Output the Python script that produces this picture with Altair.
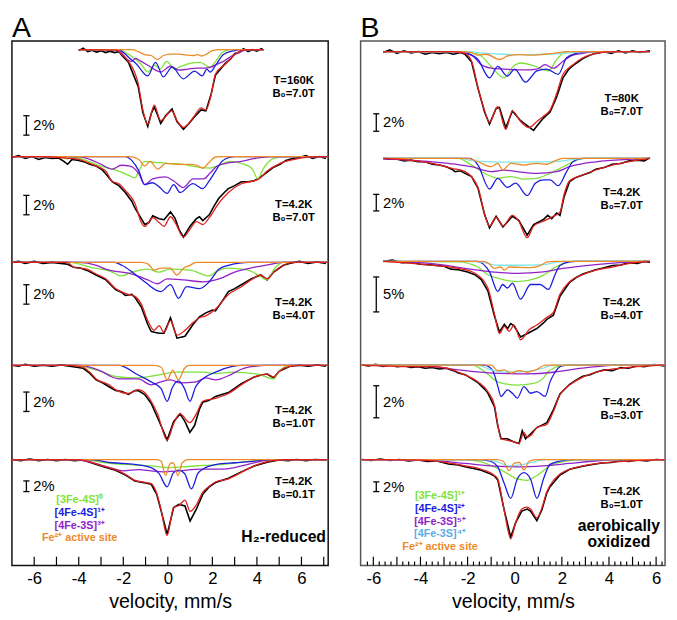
import altair as alt
import pandas as pd

FONT = "Liberation Sans"
FRAME_TOP = 29          # page y of the reference frame top (layout)
PLOT_H_UNITS = 540      # reference frame height (layout units)

COL = {"green": "#7ee23a", "blue": "#1c1ce0", "purple": "#9321c9",
       "orange": "#ee8a28", "cyan": "#7fe6ea", "fit": "#e0201c", "data": "#000000"}

# ======================= Panel A : H2-reduced =======================
# (velocity mm/s, absorption %)
A1_data = [(-4.0,0.1),(-3.8,-0.15),(-3.6,0.2),(-3.4,0.05),(-3.2,0.25),(-3.0,0.1),(-2.8,0.3),(-2.6,0.15),(-2.4,0.3),(-2.2,0.2),(-2.06,0.6),(-1.77,1.3),(-1.33,3.8),(-1.12,6.5),(-0.90,7.9),(-0.75,6.6),(-0.61,5.9),(-0.45,6.8),(-0.32,7.6),(-0.1,6.8),(0.19,6.1),(0.41,7.4),(0.70,8.2),(0.95,7.6),(1.20,6.9),(1.49,6.2),(1.71,6.3),(1.93,4.7),(2.14,2.6),(2.4,1.9),(2.58,1.4),(2.8,1.0),(3.01,0.4),(3.2,0.3),(3.4,-0.1),(3.6,0.2),(3.8,0.0),(4.0,0.15),(4.2,-0.1),(4.3,0.05)]
A1_fit = [(-4.0,0),(-2.3,0.05),(-2.06,0.5),(-1.77,1.2),(-1.33,3.5),(-1.12,6.2),(-0.90,7.7),(-0.61,5.7),(-0.32,7.3),(0.19,6.3),(0.41,7.3),(0.70,8.0),(1.20,6.8),(1.49,6.0),(1.71,6.2),(1.93,4.8),(2.14,2.5),(2.58,1.5),(3.01,0.5),(3.30,0.1),(3.6,0),(4.3,0)]
A1_green = [(-4.0,0),(-2.2,0),(-1.9,0.3),(-1.5,0.9),(-1.2,1.5),(-0.90,2.3),(-0.6,1.6),(-0.35,2.0),(-0.05,1.2),(0.3,2.0),(0.6,1.7),(1.0,1.4),(1.45,1.3),(1.9,1.8),(2.15,1.2),(2.45,0.3),(2.8,0),(4.3,0)]
A1_blue = [(-4.0,0),(-2.2,0),(-2.0,0.3),(-1.7,0.9),(-1.4,1.5),(-0.90,2.7),(-0.55,1.3),(-0.2,2.8),(0.19,1.8),(0.7,3.0),(1.2,2.2),(1.55,2.7),(1.75,2.0),(1.9,2.3),(2.15,1.6),(2.5,0.5),(3.0,0.1),(3.3,0),(4.3,0)]
A1_purple = [(-4.0,0),(-2.3,0),(-2.06,0.4),(-1.77,1.1),(-1.62,1.2),(-1.45,0.9),(-1.2,1.2),(-0.90,1.6),(-0.32,2.3),(0.12,1.7),(0.48,2.1),(0.9,2.0),(1.3,1.9),(1.6,1.9),(1.93,1.8),(2.2,1.5),(2.5,1.2),(2.9,0.6),(3.3,0.2),(3.6,0),(4.3,0)]
A1_orange = [(-4.0,0),(-1.6,0),(-1.33,0.2),(-1.04,0.5),(-0.75,0.6),(-0.46,1.0),(-0.2,0.6),(0.12,0.45),(0.5,0.45),(0.84,0.55),(1.13,0.6),(1.35,0.5),(1.5,0.65),(1.78,0.4),(2.0,0.1),(2.3,0),(4.3,0)]

A2_data = [(-7.0,0.1),(-6.7,-0.1),(-6.4,0.2),(-6.1,0.0),(-5.8,0.3),(-5.5,0.1),(-5.2,0.2),(-4.9,0.15),(-4.67,0.5),(-4.5,0.8),(-4.3,0.3),(-4.0,0.4),(-3.7,0.6),(-3.51,0.8),(-3.2,1.0),(-2.93,1.4),(-2.78,1.8),(-2.49,2.6),(-2.2,3.0),(-1.91,3.7),(-1.62,4.6),(-1.48,5.3),(-1.19,6.4),(-1.04,7.0),(-0.85,6.8),(-0.68,6.1),(-0.39,6.4),(-0.17,6.5),(0.12,5.7),(0.33,6.4),(0.5,7.5),(0.70,8.3),(0.99,7.2),(1.28,6.4),(1.42,6.2),(1.57,6.6),(1.86,6.0),(2.1,5.0),(2.29,4.3),(2.58,3.6),(2.72,3.3),(3.0,3.0),(3.30,2.6),(3.6,2.6),(3.88,2.5),(4.10,2.2),(4.3,1.9),(4.46,1.6),(4.75,1.1),(5.04,0.8),(5.3,0.4),(5.6,0.2),(5.91,0.1),(6.2,-0.1),(6.5,0.2),(6.8,0.0),(7.1,0.2)]
A2_fit = [(-7.0,0),(-5.5,0),(-4.67,0.15),(-4.38,0.2),(-4.0,0.3),(-3.51,0.7),(-3.0,1.2),(-2.78,1.5),(-2.49,2.6),(-2.2,2.8),(-1.91,3.5),(-1.48,4.8),(-1.19,6.8),(-1.04,7.2),(-0.68,6.3),(-0.39,6.8),(-0.17,7.2),(0.12,6.2),(0.33,6.8),(0.70,8.3),(0.99,7.5),(1.28,6.7),(1.57,7.0),(1.86,6.3),(2.29,4.8),(2.72,3.7),(3.30,2.8),(3.88,2.5),(4.10,2.3),(4.46,1.5),(5.04,0.7),(5.91,0.2),(6.5,0),(7.2,0)]
A2_green = [(-7.0,0),(-4.9,0),(-4.5,0.25),(-4.2,0.1),(-3.8,0.3),(-3.0,1.0),(-2.2,1.5),(-1.7,2.0),(-1.48,2.2),(-1.3,1.5),(-1.04,0.5),(-0.6,0.6),(0.0,0.7),(0.7,0.8),(1.1,1.0),(1.86,1.2),(2.3,0.9),(2.8,0.5),(3.3,0.7),(3.8,1.3),(4.03,2.3),(4.3,1.2),(4.75,0.2),(5.2,0),(7.2,0)]
A2_blue = [(-7.0,0),(-1.9,0),(-1.62,0.4),(-1.3,1.5),(-1.04,2.9),(-0.68,2.7),(-0.4,3.1),(-0.03,3.8),(0.26,2.9),(0.55,3.7),(1.13,2.8),(1.57,3.3),(1.86,2.5),(2.14,1.5),(2.43,0.5),(2.8,0.05),(3.0,0),(7.2,0)]
A2_purple = [(-7.0,0),(-4.0,0),(-3.5,0.3),(-3.0,0.8),(-2.49,1.3),(-2.1,0.9),(-1.7,1.0),(-1.3,1.8),(-1.04,2.9),(-0.68,2.3),(-0.1,2.1),(0.25,2.5),(0.7,3.2),(1.13,2.3),(1.6,2.3),(1.9,1.7),(2.2,1.0),(2.6,0.7),(3.3,0.5),(3.9,0.2),(4.6,0),(7.2,0)]
A2_orange = [(-7.0,0),(-1.7,0),(-1.3,0.3),(-1.04,1.0),(-0.8,0.5),(-0.45,1.3),(-0.1,0.7),(0.4,0.8),(1.0,0.8),(1.3,0.9),(1.57,1.2),(1.85,0.6),(2.14,0.05),(2.4,0),(7.2,0)]

A3_data = [(-7.0,0.0),(-6.7,-0.1),(-6.4,0.1),(-6.0,-0.1),(-5.6,0.1),(-5.2,0.0),(-4.8,0.1),(-4.5,0.2),(-4.23,0.5),(-3.9,0.6),(-3.65,0.8),(-3.22,1.3),(-2.78,1.8),(-2.35,2.8),(-2.06,3.1),(-1.91,3.4),(-1.62,3.3),(-1.48,3.6),(-1.19,4.6),(-0.90,6.4),(-0.75,7.1),(-0.61,7.2),(-0.39,7.3),(-0.17,7.3),(0.12,5.7),(0.41,7.8),(0.77,7.6),(1.13,6.4),(1.42,5.6),(1.71,5.2),(2.0,4.9),(2.14,5.0),(2.5,3.8),(2.72,3.0),(3.0,2.7),(3.30,2.3),(3.74,1.7),(4.17,1.3),(4.46,1.8),(4.75,1.0),(5.19,0.3),(5.5,0.1),(5.9,-0.1),(6.3,0.1),(6.7,-0.05),(7.1,0.1)]
A3_fit = [(-7.0,0),(-4.5,0),(-4.23,0.5),(-3.65,0.7),(-3.22,1.2),(-2.78,1.7),(-2.35,2.7),(-1.91,3.2),(-1.48,3.5),(-1.19,4.3),(-0.90,6.0),(-0.61,7.0),(-0.39,6.5),(-0.17,7.2),(0.12,6.0),(0.41,7.5),(0.77,7.0),(1.13,6.2),(1.42,5.7),(1.71,5.5),(2.14,4.8),(2.72,3.3),(3.30,2.5),(3.74,1.8),(4.17,1.3),(4.46,1.7),(4.75,1.0),(5.19,0.3),(5.62,0),(7.2,0)]
A3_green = [(-7.0,0),(-4.4,0),(-3.5,0.5),(-2.5,1.0),(-2.1,1.4),(-1.6,1.0),(-0.9,0.7),(-0.4,1.0),(0.1,0.7),(1.0,0.8),(1.86,1.4),(2.2,0.9),(2.7,0.6),(3.6,0.8),(4.2,1.5),(4.46,1.8),(4.8,0.6),(5.2,0),(7.2,0)]
A3_blue = [(-7.0,0),(-2.4,0),(-2.06,0.3),(-1.6,1.0),(-1.04,2.0),(-0.32,3.0),(0.12,2.3),(0.48,3.7),(0.84,2.5),(1.42,2.7),(1.86,2.0),(2.29,0.7),(2.72,0.3),(3.3,0.05),(3.6,0),(7.2,0)]
A3_purple = [(-7.0,0),(-4.0,0),(-3.2,0.3),(-2.8,0.7),(-1.6,1.2),(-0.90,1.8),(-0.46,2.2),(-0.03,1.7),(0.7,1.8),(1.57,2.0),(2.3,1.7),(3.0,1.0),(3.9,0.5),(4.6,0.2),(5.2,0),(7.2,0)]
A3_orange = [(-7.0,0),(-1.2,0),(-0.9,0.15),(-0.61,0.8),(-0.3,0.6),(0.1,0.6),(0.41,1.3),(0.7,0.6),(0.99,0.3),(1.28,0),(7.2,0)]

A4_data = [(-7.0,0.0),(-6.7,0.1),(-6.4,-0.1),(-6.0,0.1),(-5.6,0.0),(-5.2,0.1),(-4.8,-0.05),(-4.4,0.1),(-3.8,0.3),(-3.51,0.8),(-3.22,1.5),(-2.93,1.8),(-2.64,2.2),(-2.35,2.6),(-2.06,2.7),(-1.77,3.0),(-1.48,2.6),(-1.33,2.6),(-1.04,3.0),(-0.75,3.9),(-0.46,5.4),(-0.25,6.5),(-0.03,7.7),(0.26,5.8),(0.55,5.0),(0.77,5.8),(0.99,6.9),(1.2,6.2),(1.42,4.5),(1.57,3.8),(1.86,3.6),(2.14,3.2),(2.43,3.0),(2.72,2.8),(3.30,1.9),(3.88,1.2),(4.2,1.0),(4.46,0.9),(4.75,1.3),(5.0,0.6),(5.48,0.1),(5.9,0.0),(6.3,0.1),(6.7,-0.05),(7.1,0.1)]
A4_fit = [(-7.0,0),(-4.4,0),(-3.8,0.2),(-3.51,0.7),(-3.22,1.4),(-2.64,2.0),(-2.35,2.5),(-1.77,2.9),(-1.33,2.5),(-1.04,2.8),(-0.75,3.7),(-0.46,5.0),(-0.03,7.7),(0.26,6.0),(0.55,5.0),(0.99,5.9),(1.28,5.0),(1.57,3.7),(2.14,3.4),(2.72,2.9),(3.30,2.0),(3.88,1.2),(4.46,0.9),(4.75,1.2),(5.0,0.6),(5.48,0.1),(6.0,0),(7.2,0)]
A4_green = [(-7.0,0),(-4.2,0),(-3.2,0.5),(-2.2,1.2),(-1.33,1.3),(-0.46,1.0),(0.4,0.7),(1.57,0.7),(2.14,0.85),(2.9,0.7),(4.03,0.9),(4.75,1.4),(5.0,0.6),(5.5,0),(7.2,0)]
A4_blue = [(-7.0,0),(-2.2,0),(-1.33,1.0),(-0.75,1.7),(-0.3,2.4),(-0.03,3.7),(0.2,2.3),(0.48,1.6),(0.75,2.4),(0.99,3.7),(1.25,2.2),(1.42,1.7),(2.14,0.7),(2.9,0.1),(3.3,0),(7.2,0)]
A4_purple = [(-7.0,0),(-4.0,0),(-3.0,0.6),(-2.5,1.2),(-2.2,1.4),(-1.33,1.4),(-0.75,2.0),(-0.32,1.7),(0.12,1.5),(0.55,1.8),(1.28,1.7),(1.71,1.3),(2.14,1.5),(2.87,0.9),(3.3,0.4),(3.9,0.1),(4.4,0),(7.2,0)]
A4_orange = [(-7.0,0),(-0.6,0),(-0.3,0.2),(-0.03,1.5),(0.22,0.5),(0.48,1.5),(0.75,0.3),(0.95,0),(7.2,0)]

A5_data = [(-7.0,0.0),(-6.6,0.2),(-6.2,-0.1),(-5.8,0.2),(-5.4,0.0),(-5.0,0.2),(-4.6,0.0),(-4.2,0.2),(-3.8,0.1),(-3.51,0.5),(-2.93,1.3),(-2.35,2.0),(-1.9,2.9),(-1.48,4.0),(-1.0,4.4),(-0.75,4.6),(-0.5,6.5),(-0.32,9.3),(-0.03,14.0),(0.26,9.0),(0.5,8.4),(0.77,8.7),(1.0,11.5),(1.28,9.3),(1.57,6.5),(1.86,5.1),(2.14,4.3),(2.72,3.5),(3.30,2.3),(3.88,1.2),(4.46,0.5),(5.0,0.1),(5.4,0.2),(5.8,0.0),(6.2,0.2),(6.6,0.0),(7.1,0.1)]
A5_fit = [(-7.0,0),(-4.0,0),(-3.51,0.4),(-2.93,1.2),(-2.35,1.9),(-1.9,2.8),(-1.48,3.9),(-1.0,4.3),(-0.75,4.5),(-0.5,6.3),(-0.32,9.1),(-0.03,14.2),(0.26,9.0),(0.5,8.6),(0.77,7.6),(1.0,9.7),(1.28,8.5),(1.57,6.1),(1.86,5.0),(2.14,4.2),(2.72,3.6),(3.30,2.4),(3.88,1.2),(4.46,0.4),(5.2,0),(7.2,0)]
A5_green = [(-7.0,0),(-3.8,0),(-2.8,0.6),(-1.6,1.0),(-0.75,1.2),(0.1,1.5),(0.9,1.3),(1.6,1.1),(2.5,0.9),(3.3,0.5),(4.2,0.1),(4.6,0),(7.2,0)]
A5_blue = [(-7.0,0),(-3.5,0),(-2.5,0.6),(-1.5,0.9),(-0.75,1.5),(-0.4,2.6),(-0.03,5.1),(0.25,2.5),(0.48,2.0),(0.75,2.6),(1.06,5.5),(1.35,2.6),(1.57,1.8),(2.2,0.9),(3.0,0.6),(3.9,0.3),(4.6,0),(7.2,0)]
A5_purple = [(-7.0,0),(-4.2,0),(-3.5,0.5),(-2.6,1.5),(-2.0,2.1),(-1.3,1.9),(-0.75,2.1),(-0.2,2.3),(0.5,2.1),(1.5,1.8),(2.5,1.8),(3.0,1.5),(3.6,0.9),(4.2,0.3),(4.8,0),(7.2,0)]
A5_orange = [(-7.0,0),(-0.5,0),(-0.3,0.3),(-0.1,3.0),(0.1,0.8),(0.24,0.6),(0.45,3.0),(0.65,0.6),(0.9,0),(7.2,0)]

# ======================= Panel B : aerobically oxidized =======================
B1_data = [(-5.58,0.1),(-5.3,-0.2),(-5.0,0.2),(-4.7,-0.1),(-4.4,0.15),(-4.1,0.0),(-3.8,0.3),(-3.5,0.1),(-3.2,0.25),(-2.9,0.1),(-2.6,0.3),(-2.3,0.1),(-2.11,0.3),(-1.83,1.2),(-1.56,4.2),(-1.28,6.9),(-1.07,8.3),(-0.79,6.5),(-0.65,6.4),(-0.38,8.7),(-0.1,6.8),(0.25,7.9),(0.6,8.6),(0.8,9.0),(0.94,8.5),(1.22,7.6),(1.5,6.9),(1.78,5.2),(2.05,3.0),(2.3,2.0),(2.47,1.6),(2.89,0.8),(3.2,0.4),(3.44,0.2),(3.8,0.0),(4.1,0.2),(4.4,-0.1),(4.7,0.15),(5.0,-0.1),(5.3,0.1),(5.74,-0.1)]
B1_fit = [(-5.58,0),(-2.53,0),(-2.11,0.2),(-1.83,1.1),(-1.56,4.1),(-1.28,6.7),(-1.07,8.1),(-0.72,6.3),(-0.38,8.9),(-0.1,6.8),(0.25,8.0),(0.6,8.7),(0.94,8.0),(1.22,7.4),(1.5,6.7),(1.78,4.8),(2.05,2.6),(2.47,1.5),(2.89,0.7),(3.44,0.2),(4.14,0),(5.74,0)]
B1_green = [(-5.58,0),(-2.0,0),(-1.42,0.5),(-1.0,1.7),(-0.44,3.0),(-0.1,1.8),(0.25,1.3),(0.8,1.6),(1.43,2.2),(1.78,0.9),(2.05,0.2),(2.3,0),(5.74,0)]
B1_blue = [(-5.58,0),(-2.4,0),(-2.0,0.2),(-1.56,0.9),(-1.07,3.0),(-0.72,1.7),(-0.31,2.8),(0.0,2.0),(0.46,3.5),(0.94,2.2),(1.36,2.0),(1.85,2.6),(2.2,0.7),(2.61,0.2),(2.89,0.05),(3.1,0),(5.74,0)]
B1_purple = [(-5.58,0),(-2.8,0),(-2.3,0.1),(-1.83,0.4),(-1.42,1.5),(-1.0,1.9),(-0.44,2.0),(0.39,2.1),(0.94,2.0),(1.29,1.5),(1.64,1.9),(2.05,1.1),(2.47,0.4),(2.89,0.2),(3.4,0),(5.74,0)]
B1_cyan = [(-5.58,0),(-2.0,0),(-1.5,0.15),(-0.5,0.3),(0.5,0.35),(1.5,0.3),(2.3,0.15),(3.0,0),(5.74,0)]
B1_orange = [(-5.58,0),(-2.3,0),(-1.83,0.15),(-1.56,0.4),(-1.2,0.3),(-0.65,0.9),(-0.3,0.5),(0.2,0.35),(0.7,0.4),(1.22,0.3),(1.78,0.15),(2.2,0),(5.74,0)]

B2_data = [(-5.58,0.0),(-5.3,0.1),(-5.0,0.05),(-4.7,0.3),(-4.4,0.2),(-4.1,0.4),(-3.8,0.4),(-3.5,0.7),(-3.2,0.8),(-2.9,1.0),(-2.67,1.3),(-2.53,1.6),(-2.3,1.5),(-2.11,1.8),(-1.83,2.2),(-1.56,3.6),(-1.28,6.8),(-1.07,8.4),(-0.79,7.0),(-0.5,8.3),(-0.1,7.0),(0.17,7.5),(0.53,9.3),(0.8,8.0),(1.22,7.4),(1.4,6.9),(1.57,7.3),(1.78,6.6),(1.92,6.9),(2.1,4.6),(2.33,2.8),(2.6,2.3),(2.89,2.0),(3.2,1.7),(3.44,1.3),(3.8,1.1),(4.14,0.7),(4.5,0.6),(4.83,0.3),(5.2,0.2),(5.5,0.3),(5.74,-0.1)]
B2_fit = [(-5.58,0),(-4.5,0.2),(-3.5,0.6),(-2.67,1.2),(-2.11,1.6),(-1.56,3.5),(-1.28,6.7),(-1.07,8.2),(-0.79,7.1),(-0.5,8.2),(-0.1,6.9),(0.17,7.6),(0.53,9.6),(0.8,8.2),(1.22,7.6),(1.57,7.1),(1.92,6.5),(2.1,4.3),(2.33,2.7),(2.89,2.0),(3.44,1.4),(4.14,0.8),(4.83,0.4),(5.74,0)]
B2_green = [(-5.58,0),(-2.4,0),(-1.83,0.8),(-1.14,2.0),(-0.72,2.4),(-0.17,2.2),(0.39,2.5),(0.94,2.4),(1.5,1.8),(1.92,1.2),(2.2,0.8),(2.61,0.2),(3.0,0),(5.74,0)]
B2_blue = [(-5.58,0),(-1.9,0),(-1.56,0.8),(-1.07,3.7),(-0.72,2.4),(-0.31,3.5),(0.04,3.0),(0.53,4.5),(0.875,3.0),(1.22,2.6),(1.5,2.6),(1.85,3.3),(2.2,1.6),(2.47,0.4),(2.89,0),(5.74,0)]
B2_purple = [(-5.58,0.05),(-3.5,0.4),(-2.5,0.7),(-1.83,1.0),(-1.0,1.6),(-0.44,1.4),(0.11,1.6),(0.94,1.8),(1.78,1.6),(2.33,1.0),(3.44,0.4),(4.83,0.1),(5.74,0)]
B2_cyan = [(-5.58,0),(-2.4,0),(-1.7,0.3),(-1.0,0.4),(0.5,0.45),(1.9,0.35),(2.5,0.1),(2.9,0),(5.74,0)]
B2_orange = [(-5.58,0),(-2.0,0),(-1.56,0.4),(-1.0,1.0),(-0.72,0.6),(-0.51,1.4),(-0.17,0.6),(0.39,0.8),(0.94,0.6),(1.36,0.7),(1.78,0.2),(2.05,0),(5.74,0)]

B3_data = [(-5.58,0.0),(-5.2,-0.2),(-4.8,0.2),(-4.4,0.1),(-4.0,0.4),(-3.5,0.5),(-3.0,0.7),(-2.7,1.1),(-2.39,1.2),(-2.0,1.5),(-1.69,1.9),(-1.42,2.6),(-1.14,4.2),(-0.86,7.8),(-0.65,10.1),(-0.44,9.0),(-0.3,9.6),(-0.17,8.9),(-0.03,9.2),(0.25,10.8),(0.6,10.2),(0.94,9.6),(1.22,8.8),(1.36,8.3),(1.64,7.7),(1.92,5.0),(2.33,3.0),(2.61,2.3),(2.89,1.8),(3.44,1.2),(3.8,0.9),(4.14,0.6),(4.5,0.5),(4.83,0.2),(5.2,0.3),(5.5,0.0),(5.74,0.1)]
B3_fit = [(-5.58,0),(-3.5,0.55),(-2.39,1.0),(-1.69,1.7),(-1.14,3.8),(-0.86,7.5),(-0.65,10.3),(-0.44,9.3),(-0.24,10.0),(-0.03,9.1),(0.25,11.2),(0.6,9.8),(0.94,9.1),(1.36,8.0),(1.64,7.3),(1.92,4.7),(2.33,2.9),(2.89,1.9),(3.44,1.25),(4.14,0.8),(4.83,0.3),(5.74,0)]
B3_green = [(-5.58,0),(-2.4,0.05),(-1.56,0.8),(-1.14,1.9),(-0.72,2.4),(0.11,2.9),(0.94,2.4),(1.36,1.7),(1.64,1.0),(2.05,0.3),(2.4,0),(5.74,0)]
B3_blue = [(-5.58,0),(-1.6,0),(-1.07,1.5),(-0.72,4.3),(-0.51,3.3),(-0.31,3.8),(-0.1,3.1),(0.25,5.4),(0.67,3.3),(1.08,3.3),(1.43,4.0),(1.71,1.9),(1.92,0.6),(2.33,0.05),(2.6,0),(5.74,0)]
B3_purple = [(-5.58,0),(-3.5,0.3),(-2.11,1.0),(-1.0,1.5),(0.11,1.7),(1.22,1.5),(2.05,1.0),(3.44,0.45),(4.83,0.1),(5.74,0)]
B3_cyan = [(-5.58,0),(-2.0,0),(-1.42,0.1),(-0.72,0.55),(0.11,0.55),(1.22,0.45),(1.78,0.1),(2.2,0),(5.74,0)]
B3_orange = [(-5.58,0),(-1.4,0),(-1.14,0.2),(-0.86,1.0),(-0.58,0.8),(-0.44,1.25),(-0.24,0.8),(0.67,0.9),(1.08,0.6),(1.36,0.1),(1.6,0),(5.74,0)]

B4_data = [(-6.49,0.0),(-6.2,0.05),(-5.9,-0.05),(-5.6,0.08),(-5.3,0.0),(-5.0,0.1),(-4.7,0.05),(-4.4,0.15),(-4.1,0.1),(-3.8,0.2),(-3.5,0.15),(-3.2,0.25),(-2.9,0.2),(-2.6,0.35),(-2.39,0.5),(-2.1,0.6),(-1.83,0.85),(-1.56,1.1),(-1.28,1.5),(-1.14,1.75),(-0.86,2.6),(-0.72,3.8),(-0.58,4.6),(-0.31,4.6),(-0.03,4.8),(0.18,4.9),(0.32,4.1),(0.46,4.6),(0.67,4.3),(0.94,3.9),(1.22,3.7),(1.36,3.6),(1.64,2.8),(1.92,1.8),(2.33,1.2),(2.6,0.95),(2.89,0.7),(3.2,0.6),(3.44,0.45),(3.8,0.3),(4.14,0.35),(4.5,0.15),(4.83,0.2),(5.2,0.05),(5.5,0.1),(5.9,-0.03),(6.36,0.05)]
B4_fit = [(-6.49,0),(-4.0,0.1),(-3.5,0.1),(-2.81,0.2),(-2.39,0.45),(-1.56,1.05),(-1.14,1.65),(-0.86,2.5),(-0.72,3.7),(-0.58,4.6),(-0.31,4.7),(-0.03,4.8),(0.18,4.9),(0.39,4.2),(0.53,4.5),(0.74,4.3),(0.94,3.9),(1.36,3.7),(1.64,2.9),(1.92,1.85),(2.33,1.25),(2.89,0.75),(3.44,0.45),(4.83,0.15),(5.74,0.05),(6.36,0)]
B4_green = [(-6.49,0),(-1.8,0),(-1.28,0.4),(-0.72,1.05),(0.11,1.25),(0.8,1.15),(1.22,0.8),(1.43,0.4),(1.8,0.1),(2.2,0),(6.36,0)]
B4_blue = [(-6.49,0),(-1.3,0),(-0.95,0.3),(-0.72,1.3),(-0.58,1.96),(-0.31,1.55),(-0.1,1.76),(0.11,2.06),(0.39,1.35),(0.67,1.76),(0.94,1.66),(1.29,1.96),(1.5,1.05),(1.71,0.45),(2.0,0.05),(2.3,0),(6.36,0)]
B4_purple = [(-6.49,0),(-3.5,0.1),(-2.39,0.3),(-1.0,0.5),(0.5,0.55),(1.64,0.45),(2.33,0.3),(3.44,0.1),(4.5,0),(6.36,0)]
B4_cyan = [(-6.49,0),(-1.6,0),(-1.0,0.3),(-0.3,0.45),(0.5,0.4),(1.2,0.2),(1.6,0),(6.36,0)]
B4_orange = [(-6.49,0),(-1.0,0),(-0.72,0.35),(-0.44,0.3),(-0.17,0.5),(0.18,0.35),(0.53,0.45),(0.9,0.3),(1.3,0),(6.36,0)]

B5_data = [(-6.49,0.0),(-6.1,0.2),(-5.7,-0.1),(-5.3,0.2),(-4.9,0.0),(-4.5,0.3),(-4.1,0.1),(-3.7,0.4),(-3.3,0.3),(-2.81,0.9),(-2.4,1.1),(-2.11,1.5),(-1.7,1.9),(-1.42,2.2),(-1.1,2.8),(-0.86,3.4),(-0.72,4.2),(-0.44,10.5),(-0.17,16.0),(0.04,13.0),(0.3,10.6),(0.53,10.2),(0.67,10.6),(0.94,12.6),(1.15,10.4),(1.36,6.9),(1.5,5.6),(1.92,3.2),(2.33,2.0),(2.89,1.4),(3.3,1.0),(3.7,0.7),(4.1,0.6),(4.5,0.2),(4.83,0.4),(5.2,0.1),(5.6,0.3),(6.0,0.0),(6.36,0.1)]
B5_fit = [(-6.49,0),(-4.0,0.1),(-2.81,0.67),(-2.11,1.3),(-1.42,2.0),(-0.86,3.3),(-0.72,4.0),(-0.44,10.7),(-0.17,16.3),(0.04,13.0),(0.3,10.2),(0.53,9.8),(0.67,10.2),(0.94,12.0),(1.15,10.0),(1.36,6.7),(1.5,5.3),(1.92,3.0),(2.33,2.0),(2.89,1.3),(3.7,0.7),(4.83,0.3),(6.36,0)]
B5_green = [(-6.49,0),(-2.2,0),(-1.56,0.3),(-0.86,1.5),(-0.44,2.5),(-0.17,3.3),(0.11,4.0),(0.53,4.3),(0.8,3.7),(1.22,2.3),(1.5,1.2),(2.33,0.2),(2.8,0),(6.36,0)]
B5_blue = [(-6.49,0),(-1.5,0),(-1.0,0.4),(-0.72,1.5),(-0.44,5.0),(-0.17,8.0),(0.11,4.0),(0.39,2.7),(0.67,4.0),(0.94,8.0),(1.22,4.0),(1.5,1.0),(2.05,0.2),(2.5,0),(6.36,0)]
B5_purple = [(-6.49,0),(-3.5,0.2),(-2.11,0.8),(-1.0,1.3),(0.11,1.5),(1.22,1.3),(2.33,0.8),(3.44,0.3),(4.5,0),(6.36,0)]
B5_cyan = [(-6.49,0),(-1.2,0),(-0.72,0.5),(-0.24,1.3),(0.39,1.0),(0.94,0.3),(1.3,0),(6.36,0)]
B5_orange = [(-6.49,0),(-0.8,0),(-0.5,0.3),(-0.24,2.3),(-0.03,0.8),(0.2,0.6),(0.39,2.2),(0.6,0.4),(0.9,0),(6.36,0)]

# ---- annotations ----
A_T = ["T=160K", "T=4.2K", "T=4.2K", "T=4.2K", "T=4.2K"]
A_B = ["B\u2080=7.0T", "B\u2080=7.0T", "B\u2080=4.0T", "B\u2080=1.0T", "B\u2080=0.1T"]
B_T = ["T=80K", "T=4.2K", "T=4.2K", "T=4.2K", "T=4.2K"]
B_B = ["B\u2080=7.0T", "B\u2080=7.0T", "B\u2080=4.0T", "B\u2080=3.0T", "B\u2080=1.0T"]
A_BAR_PCT = [2, 2, 2, 2, 2]
B_BAR_PCT = [2, 2, 5, 2, 2]
A_LEGEND = ["[3Fe-4S]\u2070", "[4Fe-4S]\u00b9\u207a", "[4Fe-3S]\u00b3\u207a", "Fe\u00b2\u207a active site"]
A_LEGEND_COL = [COL["green"], COL["blue"], COL["purple"], COL["orange"]]
B_LEGEND = ["[3Fe-4S]\u00b9\u207a", "[4Fe-4S]\u00b2\u207a", "[4Fe-3S]\u2075\u207a", "[4Fe-3S]\u2074\u207a", "Fe\u00b2\u207a active site"]
B_LEGEND_COL = [COL["green"], COL["blue"], COL["purple"], "#5aaee8", COL["orange"]]

# ---- layout (page y of baseline in reference, px per %) ----
A_SPECTRA = [
    dict(name="A1", base=38, k=10, data=A1_data, fit=A1_fit, green=A1_green, blue=A1_blue, purple=A1_purple, orange=A1_orange),
    dict(name="A2", base=148, k=10, data=A2_data, fit=A2_fit, green=A2_green, blue=A2_blue, purple=A2_purple, orange=A2_orange),
    dict(name="A3", base=257, k=10, data=A3_data, fit=A3_fit, green=A3_green, blue=A3_blue, purple=A3_purple, orange=A3_orange),
    dict(name="A4", base=363, k=10, data=A4_data, fit=A4_fit, green=A4_green, blue=A4_blue, purple=A4_purple, orange=A4_orange),
    dict(name="A5", base=460, k=5.5, data=A5_data, fit=A5_fit, green=A5_green, blue=A5_blue, purple=A5_purple, orange=A5_orange),
]
B_SPECTRA = [
    dict(name="B1", base=40, k=9, data=B1_data, fit=B1_fit, green=B1_green, blue=B1_blue, purple=B1_purple, cyan=B1_cyan, orange=B1_orange),
    dict(name="B2", base=150, k=8.5, data=B2_data, fit=B2_fit, green=B2_green, blue=B2_blue, purple=B2_purple, cyan=B2_cyan, orange=B2_orange),
    dict(name="B3", base=256, k=7.2, data=B3_data, fit=B3_fit, green=B3_green, blue=B3_blue, purple=B3_purple, cyan=B3_cyan, orange=B3_orange),
    dict(name="B4", base=362.7, k=16.5, data=B4_data, fit=B4_fit, green=B4_green, blue=B4_blue, purple=B4_purple, cyan=B4_cyan, orange=B4_orange),
    dict(name="B5", base=460, k=5, data=B5_data, fit=B5_fit, green=B5_green, blue=B5_blue, purple=B5_purple, cyan=B5_cyan, orange=B5_orange),
]
A_TEXT_Y = [70, 198, 299, 410, 483]
B_TEXT_Y = [89, 186, 299, 402, 493]
A_BAR_Y = [116, 198, 290, 400.5, 487.5]
B_BAR_Y = [113, 195.5, 290, 400.5, 488]

COMPONENTS = ["green", "purple", "blue", "cyan", "orange"]


def curves_df(spectra):
    rows = []
    for s in spectra:
        for curve in ["data", "fit"] + COMPONENTS:
            if curve not in s:
                continue
            for v, p in s[curve]:
                rows.append({"v": v, "y": s["base"] - FRAME_TOP + s["k"] * p,
                             "curve": curve, "key": s["name"] + "_" + curve})
    return pd.DataFrame(rows)


def make_panel(spectra, letter, xdom, width, height, t_lab, b_lab, text_y, text_v,
               bar_pct, bar_y, bar_v, bar_cap, legend, legend_col, legend_v, legend_y,
               tag_lines, tag_v, tag_y, minor_step, frame_color):
    df = curves_df(spectra)
    xs = alt.Scale(domain=xdom, nice=False, zero=False)
    ys = alt.Scale(domain=[0, PLOT_H_UNITS], reverse=True, nice=False, zero=False)
    X = alt.X("v:Q", scale=xs, title="velocity, mm/s",
              axis=alt.Axis(values=[-6, -4, -2, 0, 2, 4, 6], ticks=False, domain=False, grid=False,
                            labelExpr="'' + datum.value", labelFontSize=17, labelFont=FONT,
                            labelColor="black", labelPadding=5, titleFont=FONT, titleFontSize=20,
                            titleFontWeight="normal", titleColor="black", titlePadding=6))
    Y = alt.Y("y:Q", scale=ys, axis=None)

    base = alt.Chart(df)
    black = base.transform_filter("datum.curve == 'data'").mark_line(
        color="black", strokeWidth=1.6, interpolate="linear").encode(x=X, y=Y, detail="key:N")
    comps = base.transform_filter("datum.curve != 'data' && datum.curve != 'fit'").mark_line(
        strokeWidth=1.3, interpolate="monotone").encode(
        x=X, y=Y, detail="key:N",
        color=alt.Color("curve:N", legend=None,
                        scale=alt.Scale(domain=COMPONENTS, range=[COL[c] for c in COMPONENTS])))
    fit = base.transform_filter("datum.curve == 'fit'").mark_line(
        color=COL["fit"], strokeWidth=1.3, interpolate="monotone").encode(x=X, y=Y, detail="key:N")

    # in-frame ticks
    trows = []
    n = int(round((xdom[1] - xdom[0]) / minor_step)) + 2
    for i in range(n):
        t = round(-7 + i * minor_step, 3)
        if t <= xdom[0] + 0.05 or t >= xdom[1] - 0.05:
            continue
        major = abs(t - round(t)) < 1e-6
        L = 9 if major else (6 if minor_step == 1 else 4)
        trows.append({"v": t, "v2": t, "y": PLOT_H_UNITS - L, "y2": PLOT_H_UNITS})
    ticks = alt.Chart(pd.DataFrame(trows)).mark_rule(color="black", strokeWidth=1.2).encode(
        x=X, x2="v2:Q", y=Y, y2="y2:Q")

    # scale bars
    brows, blab = [], []
    for s, pct, c in zip(spectra, bar_pct, bar_y):
        half = s["k"] * pct / 2.0
        c0 = c - FRAME_TOP
        brows.append({"v": bar_v, "v2": bar_v, "y": c0 - half, "y2": c0 + half})
        brows.append({"v": bar_v - bar_cap, "v2": bar_v + bar_cap, "y": c0 - half, "y2": c0 - half})
        brows.append({"v": bar_v - bar_cap, "v2": bar_v + bar_cap, "y": c0 + half, "y2": c0 + half})
        blab.append({"v": bar_v + 2.2 * bar_cap, "y": c0, "t": f"{pct}%"})
    bars = alt.Chart(pd.DataFrame(brows)).mark_rule(color="black", strokeWidth=1.3).encode(
        x=X, x2="v2:Q", y=Y, y2="y2:Q")
    bar_txt = alt.Chart(pd.DataFrame(blab)).mark_text(
        align="left", baseline="middle", fontSize=15, font=FONT, color="black").encode(x=X, y=Y, text="t:N")

    # condition labels
    crow = []
    for tl, bl, ty in zip(t_lab, b_lab, text_y):
        crow.append({"v": text_v, "y": ty - FRAME_TOP, "t": tl})
        crow.append({"v": text_v, "y": ty + 13.5 - FRAME_TOP, "t": bl})
    cond = alt.Chart(pd.DataFrame(crow)).mark_text(
        align="center", baseline="middle", fontSize=11.5, fontWeight="bold", font=FONT, color="black").encode(
        x=X, y=Y, text="t:N")

    # legend text
    lrow = [{"v": legend_v, "y": legend_y + 13 * i - FRAME_TOP, "t": t, "c": c}
            for i, (t, c) in enumerate(zip(legend, legend_col))]
    leg = alt.Chart(pd.DataFrame(lrow)).mark_text(
        align="center", baseline="middle", fontSize=11, fontWeight="bold", font=FONT).encode(
        x=X, y=Y, text="t:N", color=alt.Color("c:N", scale=None))

    # tag
    grow = [{"v": tag_v, "y": tag_y + 17 * i - FRAME_TOP, "t": t} for i, t in enumerate(tag_lines)]
    tag = alt.Chart(pd.DataFrame(grow)).mark_text(
        align="center", baseline="middle", fontSize=16, fontWeight="bold", font=FONT, color="black").encode(
        x=X, y=Y, text="t:N")

    # panel letter
    let = alt.Chart(pd.DataFrame([{"v": xdom[0], "y": -4, "t": letter}])).mark_text(
        align="left", baseline="alphabetic", fontSize=29, font=FONT, color="black").encode(
        x=X, y=Y, text="t:N")

    return alt.layer(black, comps, fit, ticks, bars, bar_txt, cond, leg, tag, let).properties(
        width=width, height=height,
        view=alt.ViewConfig(stroke=frame_color, strokeWidth=1.5))


panel_a = make_panel(A_SPECTRA, "A", [-7.0, 7.2], 322, 534, A_T, A_B, A_TEXT_Y, 5.65,
                     A_BAR_PCT, A_BAR_Y, -6.35, 0.14, A_LEGEND, A_LEGEND_COL, -3.96, 502,
                     ["H\u2082-reduced"], 5.2, 540, 1.0, "#111111")
panel_b = make_panel(B_SPECTRA, "B", [-6.54, 6.38], 310, 534, B_T, B_B, B_TEXT_Y, 4.54,
                     B_BAR_PCT, B_BAR_Y, -5.875, 0.13, B_LEGEND, B_LEGEND_COL, -3.17, 498,
                     ["aerobically", "oxidized"], 4.42, 528, 0.25, "#555555")

chart = alt.hconcat(panel_a, panel_b, spacing=26).properties(padding=0).configure_view(
    stroke="#111111", strokeWidth=1.5).configure(font=FONT)

chart.save("out.html", embed_options={"renderer": "svg", "actions": False})
